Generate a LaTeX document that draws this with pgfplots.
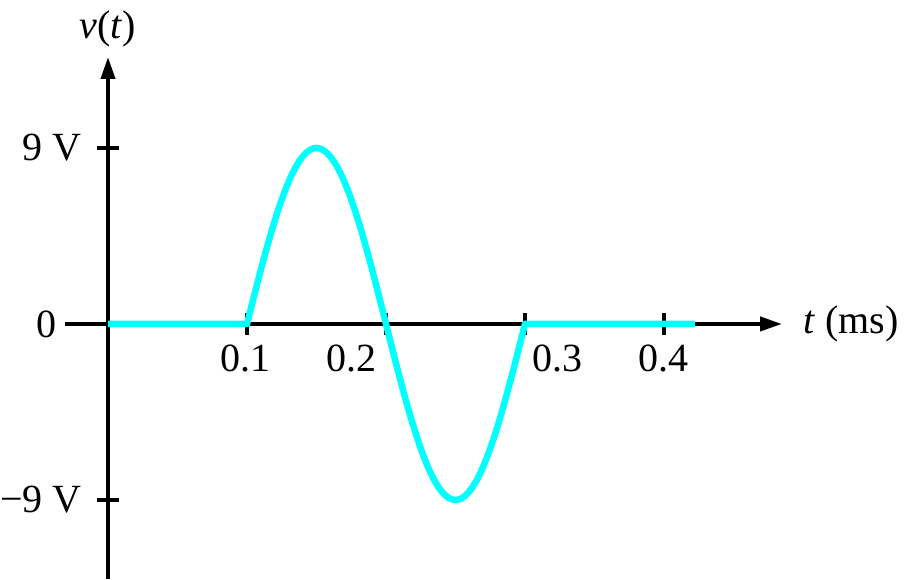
\documentclass[border=0pt]{standalone}
\usepackage{pgfplots}
\pgfplotsset{compat=1.18}
\usepackage{fontspec}
\setmainfont{Liberation Serif}
\usetikzlibrary{arrows.meta}
\definecolor{wave}{RGB}{0,255,255}
\tikzset{lbl/.style={font=\fontsize{20}{24}\selectfont}}
\begin{document}
\begin{tikzpicture}
\useasboundingbox (-32.5pt,0pt) rectangle (419.5pt,289.5pt);
\begin{axis}[
  at={(0,0)}, anchor=south west,
  scale only axis, width=358.5pt, height=261pt,
  xmin=-0.03094, xmax=0.4849, ymin=-13.04, ymax=13.65,
  axis lines=middle,
  axis line style={line width=2pt, -{Triangle[length=11pt,width=7pt]}},
  xtick={0.1,0.2,0.3,0.4}, ytick={-9,9},
  xticklabels={,,,}, yticklabels={,},
  tick align=center,
  major tick length=11pt,
  tick style={line width=1.8pt, black},
  clip=false,
]
\addplot[wave, line width=3.25pt, line join=round] coordinates {
(0,0) (0.1,0)
(0.1000,0) (0.1025,0.706) (0.1050,1.408) (0.1075,2.101) (0.1100,2.781)
(0.1125,3.444) (0.1150,4.086) (0.1175,4.703) (0.1200,5.290) (0.1225,5.845)
(0.1250,6.364) (0.1275,6.844) (0.1300,7.281) (0.1325,7.674) (0.1350,8.019)
(0.1375,8.315) (0.1400,8.560) (0.1425,8.751) (0.1450,8.889) (0.1475,8.972)
(0.1500,9.000)
(0.1525,8.972) (0.1550,8.889) (0.1575,8.751) (0.1600,8.560) (0.1625,8.315)
(0.1650,8.019) (0.1675,7.674) (0.1700,7.281) (0.1725,6.844) (0.1750,6.364)
(0.1775,5.845) (0.1800,5.290) (0.1825,4.703) (0.1850,4.086) (0.1875,3.444)
(0.1900,2.781) (0.1925,2.101) (0.1950,1.408) (0.1975,0.706) (0.2000,0)
(0.2025,-0.706) (0.2050,-1.408) (0.2075,-2.101) (0.2100,-2.781) (0.2125,-3.444)
(0.2150,-4.086) (0.2175,-4.703) (0.2200,-5.290) (0.2225,-5.845) (0.2250,-6.364)
(0.2275,-6.844) (0.2300,-7.281) (0.2325,-7.674) (0.2350,-8.019) (0.2375,-8.315)
(0.2400,-8.560) (0.2425,-8.751) (0.2450,-8.889) (0.2475,-8.972) (0.2500,-9.000)
(0.2525,-8.972) (0.2550,-8.889) (0.2575,-8.751) (0.2600,-8.560) (0.2625,-8.315)
(0.2650,-8.019) (0.2675,-7.674) (0.2700,-7.281) (0.2725,-6.844) (0.2750,-6.364)
(0.2775,-5.845) (0.2800,-5.290) (0.2825,-4.703) (0.2850,-4.086) (0.2875,-3.444)
(0.2900,-2.781) (0.2925,-2.101) (0.2950,-1.408) (0.2975,-0.706) (0.3000,0)
(0.4223,0)
};
\node[lbl] at (axis cs:0.0986,-1.74) {0.1};
\node[lbl] at (axis cs:0.1755,-1.74) {0.2};
\node[lbl] at (axis cs:0.3237,-1.74) {0.3};
\node[lbl] at (axis cs:0.4,-1.74) {0.4};
\node[lbl, anchor=east, inner sep=0pt] at (axis cs:-0.0187,9) {9 V};
\node[lbl, anchor=east, inner sep=0pt] at (axis cs:-0.0367,0) {0};
\node[lbl, anchor=east, inner sep=0pt] at (axis cs:-0.0187,-9) {−9 V};
\node[lbl, anchor=west, inner sep=0pt] at (axis cs:0.5,0) {\textit{t} (ms)};
\node[lbl] at (axis cs:0,15.08) {\textit{v}(\textit{t})};
\end{axis}
\end{tikzpicture}
\end{document}
